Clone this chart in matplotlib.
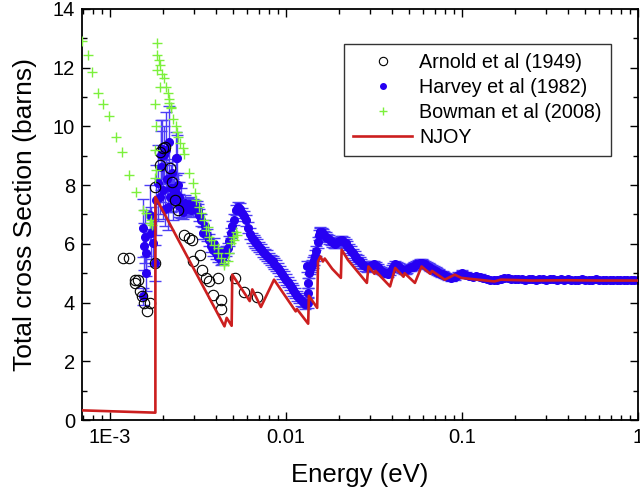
import matplotlib
matplotlib.use("Agg")
import matplotlib.pyplot as plt
from matplotlib.lines import Line2D
from matplotlib.ticker import MultipleLocator, LogLocator, NullFormatter

plt.rcParams['font.family'] = ['Liberation Sans', 'DejaVu Sans']

# ---------------- data ----------------
# Arnold et al (1949)
arnold_E = [1.18e-3, 1.28e-3, 1.38e-3, 1.44e-3, 1.39e-3, 1.48e-3, 1.51e-3, 1.56e-3, 1.625e-3, 1.69e-3,
            1.795e-3, 1.81e-3, 1.92e-3, 2.0e-3, 1.92e-3, 2.18e-3, 2.25e-3, 2.34e-3, 2.44e-3, 2.05e-3,
            2.64e-3, 2.81e-3, 2.93e-3, 2.98e-3, 3.23e-3, 3.34e-3, 3.52e-3, 3.67e-3, 3.83e-3, 4.1e-3,
            4.25e-3, 4.25e-3, 5.15e-3, 5.8e-3, 6.8e-3]
arnold_s = [5.52, 5.52, 4.78, 4.78, 4.65, 4.38, 4.22, 3.98, 3.70, 3.99,
            5.36, 7.95, 8.69, 9.26, 9.14, 8.58, 8.12, 7.50, 7.16, 9.31,
            6.31, 6.20, 6.12, 5.40, 5.63, 5.12, 4.84, 4.72, 4.27, 4.84,
            4.10, 3.78, 4.85, 4.37, 4.20]

# Harvey et al (1982)
harvey_E = [1.53e-3, 1.54e-3, 1.556e-3, 1.576e-3, 1.61e-3, 1.61e-3, 1.683e-3, 1.72e-3, 1.755e-3, 1.795e-3,
            1.835e-3, 1.875e-3, 1.96e-3, 1.96e-3, 2.0e-3, 2.07e-3, 2.13e-3, 2.16e-3, 2.23e-3, 2.28e-3,
            2.36e-3, 2.38e-3, 2.48e-3, 2.54e-3, 2.77e-3, 2.95e-3, 3.15e-3, 3.22e-3, 3.29e-3, 3.36e-3,
            3.67e-3, 3.75e-3, 4.0e-3, 4.27e-3, 4.46e-3, 4.66e-3, 4.87e-3, 5.08e-3,
            2.6e-3, 2.65e-3, 2.7e-3, 2.85e-3, 2.9e-3, 3.0e-3, 3.05e-3, 3.1e-3,
            1.92e-3, 2.05e-3, 2.1e-3, 2.2e-3, 2.25e-3, 2.32e-3, 2.42e-3, 2.45e-3,
            1.97e-3, 2.02e-3, 2.40e-3,
            3.45e-3, 3.55e-3, 3.85e-3, 3.9e-3, 4.1e-3, 4.2e-3, 4.35e-3, 4.55e-3, 4.75e-3, 4.95e-3,
            0.0052, 0.0055, 0.0058, 0.0061, 0.0064, 0.0067, 0.0070, 0.0074, 0.0078, 0.0082,
            0.0086, 0.0090, 0.0095, 0.0100, 0.0105, 0.0110, 0.0116, 0.0122, 0.0128, 0.0133,
            0.0131, 0.0134, 0.0134, 0.0135,
            0.0137, 0.0141, 0.0145, 0.0149, 0.0153, 0.0157, 0.0162, 0.0168, 0.0175, 0.0183,
            0.0191, 0.0200, 0.0209, 0.0218, 0.0228, 0.0239, 0.0250, 0.0262, 0.0275, 0.0288,
            0.0302, 0.0316, 0.0331, 0.0347, 0.0363, 0.0380, 0.0398, 0.0417, 0.0437, 0.0457,
            0.0479, 0.0501, 0.0525, 0.0550, 0.0575, 0.0603, 0.0631, 0.0661, 0.0692, 0.0724,
            0.0759, 0.0794, 0.0832, 0.0871, 0.0912, 0.0955, 0.100, 0.105, 0.110, 0.115,
            0.120, 0.126, 0.132, 0.138, 0.145, 0.151, 0.158, 0.166, 0.174, 0.182,
            0.191, 0.200, 0.209, 0.219, 0.229, 0.240, 0.251, 0.263, 0.275, 0.288,
            0.302, 0.316, 0.331, 0.347, 0.363, 0.380, 0.398, 0.417, 0.437, 0.457,
            0.479, 0.501, 0.525, 0.550, 0.575, 0.603, 0.631, 0.661, 0.692, 0.724,
            0.759, 0.794, 0.832, 0.871, 0.912, 0.955, 1.0,
            0.00535, 0.00565, 0.00595, 0.00625, 0.00655, 0.00685, 0.0072, 0.0076, 0.0080, 0.0084,
            0.0088, 0.0093, 0.0098, 0.0103, 0.0108, 0.0113, 0.0119, 0.0125, 0.0139, 0.0143,
            0.0147, 0.0151, 0.0155, 0.0160, 0.0165, 0.0172, 0.0179, 0.0187, 0.0196, 0.0205,
            0.0214, 0.0223, 0.0234, 0.0245, 0.0256, 0.0268, 0.0282, 0.0295, 0.0309, 0.0324,
            0.0339, 0.0355, 0.0371, 0.0389, 0.0408, 0.0427, 0.0447, 0.0468, 0.0490, 0.0513,
            0.0537, 0.0562, 0.0589, 0.0617, 0.0646, 0.0676, 0.0708, 0.0741, 0.0776, 0.0813]
harvey_s = [4.21, 6.54, 5.91, 6.25, 5.69, 5.00, 6.99, 6.37, 6.03, 5.35,
            7.50, 8.07, 8.63, 9.03, 7.84, 9.20, 7.27, 9.48, 7.90, 7.50,
            8.92, 7.73, 7.61, 7.39, 7.27, 7.27, 7.16, 6.99, 6.82, 6.37,
            6.14, 5.91, 5.69, 5.46, 5.63, 5.86, 6.37, 6.82,
            7.10, 7.40, 7.20, 7.35, 7.15, 7.30, 7.20, 7.25,
            7.60, 7.20, 8.20, 7.60, 8.40, 7.90, 8.00, 7.30,
            9.22, 9.03, 8.92,
            6.60, 6.30, 5.80, 6.00, 5.55, 5.70, 5.50, 5.75, 6.10, 6.60,
            7.15, 7.20, 6.95, 6.55, 6.20, 6.05, 5.90, 5.72, 5.60, 5.45,
            5.33, 5.18, 4.98, 4.78, 4.60, 4.42, 4.22, 4.08, 3.95, 4.00,
            5.23, 4.33, 4.67, 5.00,
            5.15, 5.28, 5.45, 5.75, 6.30, 6.42, 6.35, 6.25, 6.15, 6.05,
            6.00, 6.10, 6.12, 6.02, 5.85, 5.68, 5.52, 5.40, 5.28, 5.20,
            5.25, 5.30, 5.20, 5.08, 5.02, 4.98, 5.15, 5.30, 5.22, 5.12,
            5.10, 5.18, 5.22, 5.30, 5.35, 5.33, 5.25, 5.18, 5.12, 5.05,
            4.98, 4.93, 4.88, 4.85, 4.86, 4.95, 5.00, 4.95, 4.90, 4.88,
            4.90, 4.88, 4.84, 4.80, 4.78, 4.76, 4.76, 4.80, 4.82, 4.83,
            4.81, 4.80, 4.79, 4.80, 4.78, 4.80, 4.79, 4.78, 4.80, 4.79,
            4.78, 4.79, 4.80, 4.78, 4.79, 4.78, 4.79, 4.78, 4.77, 4.78,
            4.79, 4.78, 4.77, 4.78, 4.79, 4.78, 4.77, 4.78, 4.78, 4.77,
            4.78, 4.78, 4.77, 4.78, 4.78, 4.77, 4.78,
            7.25, 7.05, 6.80, 6.35, 6.12, 5.98, 5.82, 5.66, 5.52, 5.40,
            5.26, 5.08, 4.88, 4.70, 4.50, 4.32, 4.15, 4.02, 5.22, 5.36,
            5.60, 6.05, 6.40, 6.40, 6.30, 6.20, 6.10, 6.02, 6.05, 6.12,
            6.08, 5.94, 5.76, 5.60, 5.46, 5.34, 5.24, 5.22, 5.28, 5.26,
            5.14, 5.05, 5.00, 5.05, 5.22, 5.27, 5.17, 5.10, 5.14, 5.20,
            5.26, 5.33, 5.35, 5.30, 5.22, 5.15, 5.08, 5.02, 4.96, 4.90]
harvey_err = [0.30, 1.00, 0.80, 0.90, 0.80, 0.60, 1.00, 0.90, 0.80, 0.60,
              1.20, 1.30, 1.20, 1.20, 1.00, 1.30, 0.80, 1.20, 0.80, 0.70,
              0.90, 0.60, 0.50, 0.50, 0.30, 0.25, 0.20, 0.20, 0.20, 0.20,
              0.20, 0.20, 0.20, 0.18, 0.18, 0.18, 0.18, 0.18,
              0.25, 0.25, 0.25, 0.25, 0.25, 0.20, 0.20, 0.20,
              0.60, 0.60, 0.60, 0.50, 0.50, 0.50, 0.40, 0.40,
              1.00, 1.00, 0.80,
              0.20, 0.20, 0.20, 0.20, 0.18, 0.18, 0.18, 0.18, 0.18, 0.18,
              0.18, 0.18, 0.18, 0.18, 0.18, 0.18, 0.18, 0.18, 0.18, 0.18,
              0.18, 0.18, 0.18, 0.18, 0.18, 0.18, 0.18, 0.18, 0.18, 0.18,
              0.18, 0.18, 0.18, 0.18,
              0.18, 0.18, 0.18, 0.18, 0.18, 0.15, 0.15, 0.15, 0.15, 0.15,
              0.15, 0.15, 0.15, 0.15, 0.15, 0.15, 0.15, 0.15, 0.15, 0.15,
              0.12, 0.12, 0.12, 0.12, 0.12, 0.12, 0.12, 0.12, 0.12, 0.12,
              0.12, 0.12, 0.12, 0.12, 0.12, 0.12, 0.12, 0.12, 0.12, 0.12,
              0.10, 0.10, 0.10, 0.10, 0.10, 0.10, 0.10, 0.08, 0.08, 0.08,
              0.08, 0.08, 0.08, 0.06, 0.06, 0.06, 0.06, 0.06, 0.06, 0.06,
              0.05, 0.05, 0.05, 0.05, 0.05, 0.05, 0.05, 0.05, 0.05, 0.05,
              0.05, 0.05, 0.05, 0.05, 0.05, 0.05, 0.05, 0.05, 0.05, 0.05,
              0.05, 0.05, 0.05, 0.05, 0.05, 0.05, 0.05, 0.05, 0.05, 0.05,
              0.05, 0.05, 0.05, 0.05, 0.05, 0.05, 0.05,
              0.18, 0.18, 0.18, 0.18, 0.18, 0.18, 0.18, 0.18, 0.18, 0.18,
              0.18, 0.18, 0.18, 0.18, 0.18, 0.18, 0.18, 0.18, 0.18, 0.18,
              0.18, 0.18, 0.15, 0.15, 0.15, 0.15, 0.15, 0.15, 0.15, 0.15,
              0.15, 0.15, 0.15, 0.15, 0.15, 0.15, 0.15, 0.15, 0.12, 0.12,
              0.12, 0.12, 0.12, 0.12, 0.12, 0.12, 0.12, 0.12, 0.12, 0.12,
              0.12, 0.12, 0.12, 0.12, 0.12, 0.12, 0.12, 0.12, 0.10, 0.10]

# Bowman et al (2008)
bowman_E = [6.92e-4, 7.48e-4, 7.94e-4, 8.59e-4, 9.1e-4, 9.87e-4, 1.081e-3, 1.174e-3, 1.285e-3, 1.397e-3,
            1.542e-3, 1.596e-3, 1.683e-3, 1.72e-3, 1.743e-3,
            1.795e-3, 1.795e-3, 1.835e-3, 1.835e-3, 1.86e-3, 1.86e-3, 1.85e-3, 1.89e-3, 1.917e-3, 1.917e-3,
            1.983e-3, 2.025e-3, 2.09e-3, 2.134e-3, 2.153e-3, 2.23e-3, 2.276e-3, 2.36e-3, 2.4e-3, 2.43e-3,
            2.5e-3, 2.595e-3, 2.625e-3, 2.8e-3, 2.95e-3, 3.02e-3, 3.09e-3, 3.19e-3, 3.3e-3, 3.44e-3,
            3.51e-3, 3.59e-3, 3.67e-3, 3.92e-3, 4.09e-3, 4.27e-3, 4.47e-3, 4.66e-3, 4.76e-3, 4.87e-3,
            4.97e-3, 5.2e-3, 5.3e-3, 1.795e-3, 2.16e-3, 2.23e-3, 3.75e-3, 4.09e-3, 4.47e-3, 5.08e-3]
bowman_s = [12.90, 12.43, 11.84, 11.15, 10.75, 10.36, 9.63, 9.12, 8.35, 7.76,
            7.16, 7.05, 6.70, 6.82, 6.65,
            10.75, 9.20, 10.00, 8.52, 12.83, 12.43, 11.92, 12.26, 12.09, 11.35,
            11.80, 11.64, 11.35, 11.13, 10.93, 10.62, 10.24, 10.02, 9.82, 9.65,
            9.45, 9.26, 9.06, 8.43, 8.07, 7.73, 7.50, 7.27, 7.05, 6.82,
            6.48, 6.59, 6.25, 5.97, 5.69, 5.52, 5.29, 5.40, 5.69, 6.03,
            6.25, 6.42, 6.31, 8.24, 10.81, 10.67, 6.14, 5.86, 5.35, 6.14]

# NJOY
njoy_E = [6.8e-4, 1.81e-3, 1.81e-3, 4.47e-3, 4.60e-3, 4.91e-3, 4.95e-3, 6.22e-3, 6.43e-3, 7.20e-3,
          8.55e-3, 0.01135, 0.01153, 0.01336, 0.01349, 0.01503, 0.0152, 0.0157, 0.0162, 0.0166,
          0.0183, 0.0205, 0.0207, 0.0225, 0.0288, 0.0294, 0.0318, 0.0322, 0.0390, 0.0417,
          0.0465, 0.0472, 0.0540, 0.0589, 0.0660, 0.0675, 0.0798, 0.0910, 0.0991, 0.153,
          0.166, 0.25, 0.4, 0.6, 1.0]
njoy_s = [0.33, 0.25, 7.60, 3.19, 3.48, 3.21, 4.95, 4.05, 4.45, 3.85,
          4.78, 3.70, 3.78, 3.28, 4.23, 3.82, 5.40, 5.57, 5.40, 5.50,
          5.15, 4.84, 5.80, 5.45, 4.67, 5.23, 4.98, 5.08, 4.55, 5.18,
          4.88, 5.00, 4.67, 5.23, 4.98, 5.08, 4.78, 4.95, 4.84, 4.72,
          4.78, 4.75, 4.76, 4.75, 4.75]

xtick_vals = [1e-3, 1e-2, 1e-1, 1]
xtick_labels = ['1E-3', '0.01', '0.1', '1']

# ---------------- plot ----------------
fig = plt.figure(figsize=(6.4, 4.9), dpi=100)
ax = fig.add_axes([82/640, 70/490, 556/640, 411/490])

blue = '#2600f2'
ax.errorbar(harvey_E, harvey_s, yerr=harvey_err, fmt='o', ms=5.5, color=blue,
            mec=blue, mfc=blue, ecolor='#4d3df6', elinewidth=1.0, capsize=4.5,
            capthick=1.0, zorder=2)
ax.plot(arnold_E, arnold_s, 'o', ms=7.5, mfc='none', mec='black', mew=0.8, zorder=3)
ax.plot(bowman_E, bowman_s, '+', ms=7, color='#7cf03c', mew=1.0, zorder=4)
ax.plot(njoy_E, njoy_s, '-', color='#cc1f1f', lw=1.9, zorder=5)

ax.set_xscale('log')
ax.set_xlim(6.93e-4, 1.0)
ax.set_ylim(0, 14)
ax.set_xticks(xtick_vals, xtick_labels)
ax.xaxis.set_minor_locator(LogLocator(base=10, subs=[2, 3, 4, 5, 6, 7, 8, 9]))
ax.xaxis.set_minor_formatter(NullFormatter())
ax.yaxis.set_major_locator(MultipleLocator(2))
ax.yaxis.set_minor_locator(MultipleLocator(1))

ax.tick_params(which='both', direction='in', top=True, right=True, width=1.0)
ax.tick_params(which='major', length=6, labelsize=14.5)
ax.tick_params(axis='x', which='major', pad=6)
ax.tick_params(axis='y', which='major', pad=5)
ax.tick_params(which='minor', length=3.5)
for sp in ax.spines.values():
    sp.set_linewidth(1.3)

ax.set_xlabel('Energy (eV)', fontsize=18.5)
ax.xaxis.label.set_va('center')
ax.xaxis.set_label_coords(0.5, (420 - 475) / 411)
ax.set_ylabel('Total cross Section (barns)', fontsize=19)
ax.yaxis.label.set_va('center')
ax.yaxis.set_label_coords((25 - 82) / 556, 0.5)

handles = [
    Line2D([], [], ls='none', marker='o', ms=6, mfc='none', mec='black', mew=0.8),
    Line2D([], [], ls='none', marker='o', ms=4, mfc=blue, mec=blue),
    Line2D([], [], ls='none', marker='+', ms=6, color='#7cf03c', mew=1.0),
    Line2D([], [], color='#cc1f1f', lw=1.9),
]
labels = ['Arnold et al (1949)', 'Harvey et al (1982)', 'Bowman et al (2008)', 'NJOY']
leg = ax.legend(handles, labels, loc='upper right', bbox_to_anchor=(0.951, 0.915),
                fontsize=14.2, frameon=True, fancybox=False, edgecolor='black',
                handlelength=3.0, labelspacing=0.31, borderpad=0.45, handletextpad=0.35,
                borderaxespad=0)
leg.get_frame().set_linewidth(1.0)

fig.savefig('out.png', dpi=100)
